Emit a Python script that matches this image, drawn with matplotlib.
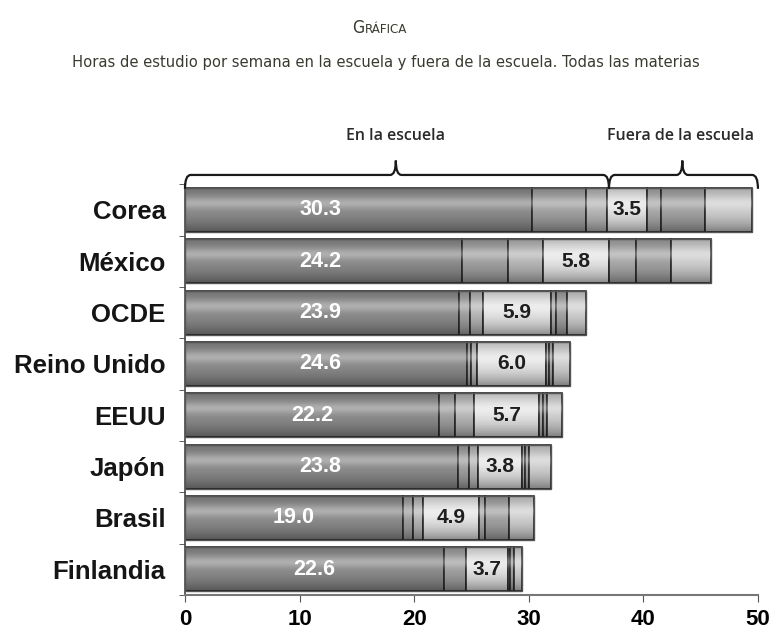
import numpy as np
import matplotlib
matplotlib.use('Agg')
import matplotlib.pyplot as plt
from matplotlib.patches import Rectangle, PathPatch
from matplotlib.path import Path

# datos (horas por semana)
paises = ['Corea', 'México', 'OCDE', 'Reino Unido', 'EEUU', 'Japón', 'Brasil', 'Finlandia']
seg1 = [30.3, 24.2, 23.9, 24.6, 22.2, 23.8, 19.0, 22.6]   # en la escuela (etiqueta)
seg2 = [4.7, 4.0, 1.0, 0.4, 1.4, 1.0, 0.9, 1.9]
seg3 = [1.8, 3.0, 1.1, 0.5, 1.6, 0.8, 0.9, 0.0]
seg4 = [3.5, 5.8, 5.9, 6.0, 5.7, 3.8, 4.9, 3.7]           # fuera (etiqueta)
seg5 = [1.2, 2.4, 0.5, 0.3, 0.3, 0.3, 0.5, 0.2]
seg6 = [3.9, 3.0, 0.9, 0.3, 0.4, 0.3, 2.1, 0.3]
seg7 = [4.1, 3.5, 1.7, 1.5, 1.3, 1.9, 2.2, 0.7]
xticks = [0, 10, 20, 30, 40, 50]

colores = ['#8e8e8e', '#a2a2a2', '#b8b8b8', '#e6e6e6', '#ababab', '#a4a4a4', '#d0d0d0']
segs = [seg1, seg2, seg3, seg4, seg5, seg6, seg7]

fig = plt.figure(figsize=(7.72, 6.33), dpi=100)
ax = fig.add_axes([0.2396, 0.060, 0.7422, 0.649])

y = np.arange(len(paises))
h = 0.86
left = np.zeros(len(paises))
for s, c in zip(segs, colores):
    ax.barh(y, s, left=left, height=h, color=c, edgecolor='#2b2b2b', linewidth=1.2, zorder=2)
    left = left + np.array(s)
total = left

# sombreado tipo cilindro
n = 100
t = np.linspace(0, 1, n)
alpha = 0.4 * np.abs(t - 0.42) ** 1.8 / 0.58 ** 1.8
grad = np.zeros((n, 1, 4))
grad[:, 0, 3] = alpha
hl = np.zeros((n, 1, 4))
hl[:, 0, :3] = 1
hl[:, 0, 3] = 0.3 * np.exp(-((t - 0.35) / 0.12) ** 2)
for i in range(len(paises)):
    r = Rectangle((0, y[i] - h / 2), total[i], h, facecolor='none', edgecolor='#555555', linewidth=1.0, zorder=4)
    ax.add_patch(r)
    for img in (grad, hl):
        im = ax.imshow(img, extent=(0, total[i], y[i] + h / 2, y[i] - h / 2), aspect='auto', zorder=3,
                       interpolation='bilinear')
        im.set_clip_path(r)

# etiquetas
for i in range(len(paises)):
    ax.text(min(seg1[i] / 2, 11.8), y[i], f'{seg1[i]:.1f}', ha='center', va='center', color='white',
            fontsize=15.5, fontweight='bold', family='Liberation Sans', zorder=5)
    x4 = seg1[i] + seg2[i] + seg3[i] + seg4[i] / 2
    ax.text(x4, y[i], f'{seg4[i]:.1f}', ha='center', va='center', color='#1e1e1e',
            fontsize=15, fontweight='bold', family='Liberation Sans', zorder=5)

ax.set_xlim(0, 50)
ax.set_ylim(len(paises) - 0.5, -0.5)
ax.set_xticks(xticks)
ax.set_xticklabels([str(v) for v in xticks], fontsize=16, fontweight='bold', family='Liberation Sans')
ax.set_yticks(y)
ax.set_yticklabels(paises, fontsize=18.5, fontweight='bold', family='Liberation Sans', color='#151515')
ax.tick_params(axis='y', length=0, pad=14)
ax.set_yticks(np.arange(len(paises) + 1) - 0.5, minor=True)
ax.tick_params(axis='y', which='minor', length=4, color='#444444')
ax.tick_params(axis='x', length=5, color='#555555', pad=5)
for sp in ['top', 'right']:
    ax.spines[sp].set_visible(False)
ax.spines['left'].set_color('#444444')
ax.spines['bottom'].set_color('#777777')
ax.spines['left'].set_linewidth(1.2)
ax.spines['bottom'].set_linewidth(1.5)


# llaves
def llave(x0, x1, xm, yb, up, down, r=0.5):
    verts = [(x0, yb + down), (x0, yb), (x0 + r, yb),
             (xm - r, yb), (xm, yb), (xm, yb - up),
             (xm, yb), (xm + r, yb),
             (x1 - r, yb), (x1, yb), (x1, yb + down)]
    codes = [Path.MOVETO, Path.CURVE3, Path.CURVE3,
             Path.LINETO, Path.CURVE3, Path.CURVE3,
             Path.CURVE3, Path.CURVE3,
             Path.LINETO, Path.CURVE3, Path.CURVE3]
    ax.add_patch(PathPatch(Path(verts, codes), facecolor='none', edgecolor='#1a1a1a',
                           linewidth=1.6, clip_on=False, zorder=6))


yb = -0.68
llave(0, 37, 18.4, yb, 0.28, 0.27)
llave(37, 50, 43.4, yb, 0.28, 0.27)
ax.text(18.4, -1.43, 'En la escuela', ha='center', va='center', fontsize=11.5, fontweight='semibold',
        family='Open Sans', color='#2a2a2a')
ax.text(43.2, -1.43, 'Fuera de la escuela', ha='center', va='center', fontsize=11.5, fontweight='semibold',
        family='Open Sans', color='#2a2a2a')

# titulos
tc = '#3a3a30'
tf = dict(family='DejaVu Sans', stretch='condensed', color=tc)
fig.text(0.472, 1 - 28 / 633, 'G', ha='right', va='center', fontsize=12.5, **tf)
fig.text(0.472, 1 - 29.5 / 633, 'RÁFICA', ha='left', va='center', fontsize=9.5, **tf)
fig.text(0.5, 1 - 62 / 633, 'Horas de estudio por semana en la escuela y fuera de la escuela. Todas las materias',
         ha='center', va='center', fontsize=11.8, **tf)

fig.savefig('out.png', dpi=100)
